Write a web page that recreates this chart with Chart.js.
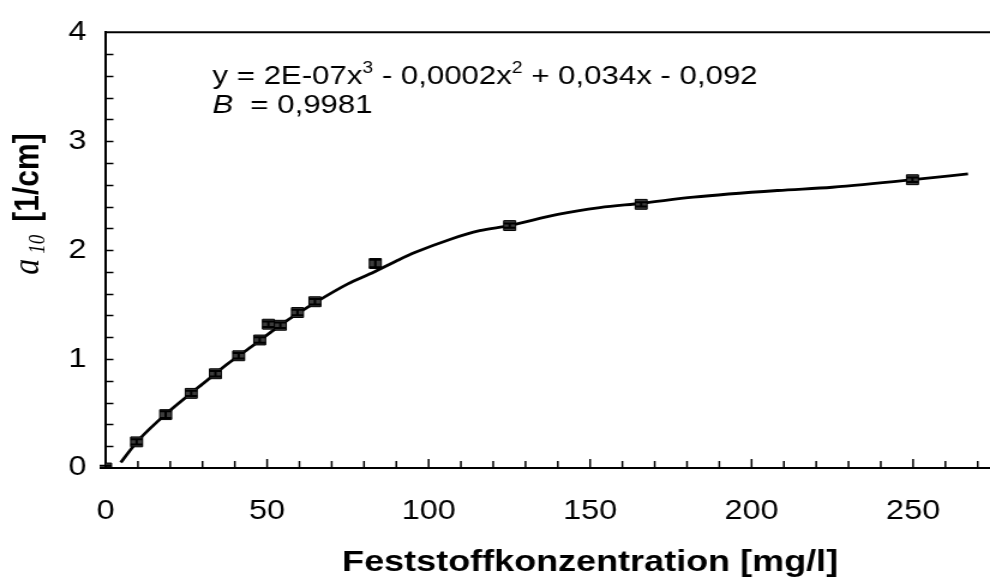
<!DOCTYPE html>
<html><head><meta charset="utf-8">
<script src="https://cdn.jsdelivr.net/npm/chart.js@4.4.1/dist/chart.umd.min.js"></script>
<style>
html,body{margin:0;padding:0;background:#fff;overflow:hidden;width:990px;height:582px;}
#wrap{position:absolute;left:0;top:0;width:945px;height:582px;transform:scaleX(1.2);transform-origin:0 0;}
canvas{display:block;}
</style></head><body>
<div id="wrap"><canvas id="c" width="945" height="582"></canvas></div>
<script>
// measured points
const concentration = [0, 9.6, 18.6, 26.5, 34.0, 41.2, 47.7, 50.4, 54.1, 59.4, 64.8, 83.5, 125.1, 165.8, 249.8];
const absorption    = [0.00, 0.24, 0.49, 0.685, 0.865, 1.03, 1.175, 1.32, 1.31, 1.427, 1.526, 1.877, 2.225, 2.42, 2.646];
const absorptionErr = [0.02, 0.025, 0.03, 0.025, 0.025, 0.025, 0.025, 0.025, 0.025, 0.025, 0.025, 0.035, 0.02, 0.02, 0.02];
// trend line
const trendX = [4.7, 10, 20, 30, 37.5, 45, 55, 65, 75, 81.7, 90, 95.7, 106.8, 115.8, 125, 140, 153, 166, 182, 208, 225, 250, 267];
const trendY = [0.05, 0.25, 0.53, 0.77, 0.95, 1.11, 1.33, 1.52, 1.69, 1.78, 1.90, 1.977, 2.10, 2.178, 2.225, 2.328, 2.39, 2.43, 2.486, 2.547, 2.577, 2.646, 2.70];
const xTickLabels = [0, 50, 100, 150, 200, 250, 300];
const yTickLabels = [0, 1, 2, 3, 4];
const equationText = ['y = 2E-07x', '3', ' - 0,0002x', '2', ' + 0,034x - 0,092'];
const fitText = ['B', ' = 0,9981'];
const xTitle = 'Feststoffkonzentration [mg/l]';
const yTitleParts = ['a', '10', '[1/cm]'];

const SANS = '"Liberation Sans", Arial, sans-serif';
const SERIF = '"Liberation Serif", "Times New Roman", serif';

function runs(ctx, x, y, list) {
  for (const r of list) {
    ctx.font = r.font;
    ctx.fillText(r.t, x, y + (r.dy || 0));
    x += ctx.measureText(r.t).width + (r.gap || 0);
  }
  return x;
}
function runsWidth(ctx, list) {
  let w = 0;
  for (const r of list) { ctx.font = r.font; w += ctx.measureText(r.t).width + (r.gap || 0); }
  return w;
}

const decor = {
  id: 'decor',
  afterDatasetsDraw(chart) {
    const ctx = chart.ctx, xs = chart.scales.x, ys = chart.scales.y;
    ctx.save();
    ctx.strokeStyle = '#000'; ctx.lineWidth = 2;
    concentration.forEach((cx, i) => {
      const px = xs.getPixelForValue(cx);
      const top = ys.getPixelForValue(absorption[i] + absorptionErr[i]);
      const bot = ys.getPixelForValue(Math.max(0, absorption[i] - absorptionErr[i]));
      ctx.beginPath();
      ctx.moveTo(px, top); ctx.lineTo(px, bot);
      ctx.moveTo(px - 5, top); ctx.lineTo(px + 5, top);
      ctx.moveTo(px - 5, bot); ctx.lineTo(px + 5, bot);
      ctx.stroke();
    });
    ctx.restore();
  },
  afterDraw(chart) {
    const ctx = chart.ctx, xs = chart.scales.x, ys = chart.scales.y, a = chart.chartArea;
    ctx.save();
    ctx.strokeStyle = '#000';
    ctx.lineWidth = 2;
    ctx.beginPath(); ctx.moveTo(a.left, a.top); ctx.lineTo(a.right, a.top); ctx.stroke();
    ctx.lineWidth = 1.5;
    ctx.beginPath();
    for (let v = 10; v <= xs.max; v += 10) {
      const px = xs.getPixelForValue(v);
      const len = (v % 50 === 0) ? 9 : 7;
      ctx.moveTo(px, a.bottom); ctx.lineTo(px, a.bottom - len);
    }
    for (let k = 1; k < 20; k++) {
      const py = Math.round(ys.getPixelForValue(k * 0.2)) + 0.5;
      ctx.moveTo(a.left, py); ctx.lineTo(a.left + 6.5, py);
    }
    ctx.stroke();
    // equation
    ctx.fillStyle = '#000';
    ctx.textBaseline = 'alphabetic';
    const big = '26px ' + SANS, sup = '16px ' + SANS;
    runs(ctx, 177, 84, [
      {t: equationText[0], font: big},
      {t: equationText[1], font: sup, dy: -11},
      {t: equationText[2], font: big},
      {t: equationText[3], font: sup, dy: -11},
      {t: equationText[4], font: big}
    ]);
    runs(ctx, 177, 113, [
      {t: fitText[0], font: 'italic 26px ' + SANS, gap: 7},
      {t: fitText[1], font: big}
    ]);
    // y axis title
    const parts = [
      {t: yTitleParts[0], font: 'italic 32px ' + SERIF, gap: 5},
      {t: yTitleParts[1], font: 'italic 19px ' + SERIF, dy: 5, gap: 13},
      {t: yTitleParts[2], font: 'bold 30px ' + SANS}
    ];
    ctx.translate(32, 204);
    ctx.rotate(-Math.PI / 2);
    const w = runsWidth(ctx, parts);
    runs(ctx, -w / 2, 0, parts);
    ctx.restore();
  }
};

new Chart(document.getElementById('c'), {
  type: 'scatter',
  data: {
    datasets: [
      {
        type: 'line',
        label: 'Trend',
        data: trendX.map((x, i) => ({x, y: trendY[i]})),
        borderColor: '#000',
        borderWidth: 2.8,
        pointRadius: 0,
        fill: false,
        cubicInterpolationMode: 'monotone',
        order: 2
      },
      {
        label: 'a10',
        data: concentration.map((x, i) => ({x, y: absorption[i]})),
        pointStyle: 'rect',
        pointRadius: 7,
        pointHoverRadius: 7,
        backgroundColor: '#3c3c3c',
        borderColor: '#000',
        borderWidth: 1,
        order: 1
      }
    ]
  },
  options: {
    responsive: false,
    animation: false,
    devicePixelRatio: 1,
    layout: { padding: { left: 0, right: 27, top: 24, bottom: 0 } },
    plugins: { legend: { display: false }, tooltip: { enabled: false } },
    scales: {
      x: {
        type: 'linear', min: 0, max: 300,
        afterFit(s) { s.height = 114; },
        afterBuildTicks(s) { s.ticks = xTickLabels.map(v => ({value: v})); },
        ticks: { color: '#000', font: { family: SANS, size: 27 }, padding: 27, maxRotation: 0 },
        grid: { display: true, drawOnChartArea: false, drawTicks: false },
        border: { display: true, color: '#000', width: 2 },
        title: { display: true, text: xTitle, color: '#000', font: { family: SANS, size: 30, weight: 'bold' }, padding: { top: 0, bottom: 1 } }
      },
      y: {
        type: 'linear', min: 0, max: 4,
        afterFit(s) { s.width = 88; },
        afterBuildTicks(s) { s.ticks = yTickLabels.map(v => ({value: v})); },
        ticks: { color: '#000', font: { family: SANS, size: 27 }, padding: 16 },
        grid: { display: true, drawOnChartArea: false, drawTicks: false },
        border: { display: true, color: '#000', width: 2 }
      }
    }
  },
  plugins: [decor]
});
</script>
</body></html>
